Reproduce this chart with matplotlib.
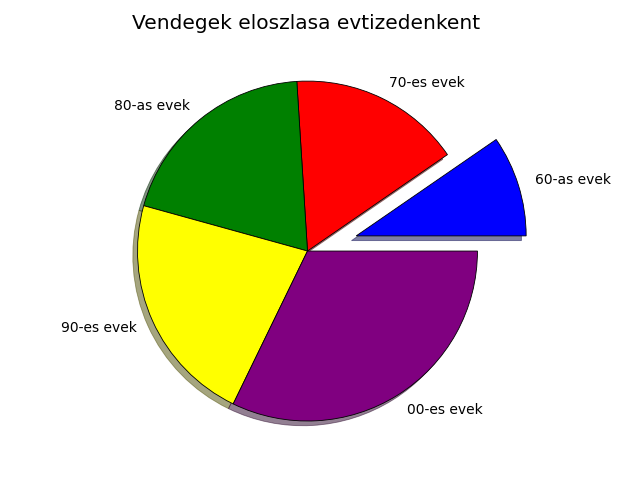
import matplotlib
matplotlib.use("Agg")
import matplotlib.pyplot as plt

# adatok
labels = ['60-as evek', '70-es evek', '80-as evek', '90-es evek', '00-es evek']
vendegek = [9.6, 16.4, 19.7, 22.1, 32.2]
szinek = ['blue', 'red', 'green', 'yellow', 'purple']
explode = [0.3, 0, 0, 0, 0]

fig = plt.figure(figsize=(6.4, 4.8), dpi=100)
ax = fig.add_axes([0.131, 0.0875, 0.775, 0.779])
ax.pie(vendegek, labels=labels, colors=szinek, explode=explode, shadow=True,
       wedgeprops={'edgecolor': 'black', 'linewidth': 0.6})
ax.set_title("Vendegek eloszlasa evtizedenkent", fontsize=14.5, pad=25, x=0.449)
ax.axis('equal')

plt.savefig('out.png', dpi=100)
